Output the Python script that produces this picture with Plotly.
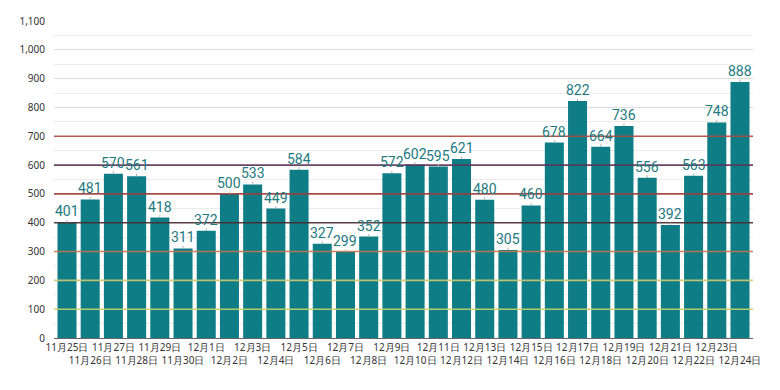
import plotly.graph_objects as go

dates = ["11月25日", "11月26日", "11月27日", "11月28日", "11月29日", "11月30日",
         "12月1日", "12月2日", "12月3日", "12月4日", "12月5日", "12月6日", "12月7日",
         "12月8日", "12月9日", "12月10日", "12月11日", "12月12日", "12月13日",
         "12月14日", "12月15日", "12月16日", "12月17日", "12月18日", "12月19日",
         "12月20日", "12月21日", "12月22日", "12月23日", "12月24日"]
values = [401, 481, 570, 561, 418, 311, 372, 500, 533, 449, 584, 327, 299, 352,
          572, 602, 595, 621, 480, 305, 460, 678, 822, 664, 736, 556, 392, 563, 748, 888]

ref_levels = [100, 200, 300, 400, 500, 600, 700]
ref_colors = ["#c9d36a", "#cfc978", "#c8764e", "#4a2a2e", "#a23c3c", "#5c3358", "#b04a40"]

y_ticks = list(range(0, 1101, 100))

teal = "#0e7d86"

ticktext = [d if i % 2 == 0 else "<br>" + d for i, d in enumerate(dates)]

fig = go.Figure()
fig.add_trace(go.Bar(x=dates, y=values, marker=dict(color=teal, line=dict(width=0)),
                     hoverinfo="x+y"))

for lvl, col in zip(ref_levels, ref_colors):
    fig.add_shape(type="line", xref="paper", x0=0, x1=1, yref="y", y0=lvl, y1=lvl,
                  line=dict(color=col, width=1.6), layer="above", opacity=0.9)

for d, v in zip(dates, values):
    fig.add_annotation(x=d, y=v, text=str(v), showarrow=True, arrowhead=0,
                       arrowwidth=1, arrowcolor="#b0b0b0", ax=0, ay=-11,
                       font=dict(family="Roboto", size=14, color="#1d7a80"),
                       borderpad=0)

fig.update_layout(
    width=780, height=390,
    margin=dict(l=46, r=35, t=13, b=60, autoexpand=False),
    paper_bgcolor="white", plot_bgcolor="white",
    bargap=0.18, showlegend=False,
    font=dict(family="Noto Sans", size=10, color="#333"),
    xaxis=dict(tickmode="array", tickvals=dates, ticktext=ticktext, automargin=False,
               tickangle=0, showgrid=False, showline=True, linecolor="#666",
               linewidth=1, ticks="", tickfont=dict(size=10, color="#333")),
    yaxis=dict(range=[0, 1100], tickvals=y_ticks, tickformat=",", automargin=False,
               showgrid=True, gridcolor="#dcdcdc", gridwidth=1,
               minor=dict(dtick=50, showgrid=True, gridcolor="#ececec"),
               zeroline=False, ticks="", ticklabelstandoff=8,
               tickfont=dict(size=10, color="#333")),
)

fig.write_html("out.html")
